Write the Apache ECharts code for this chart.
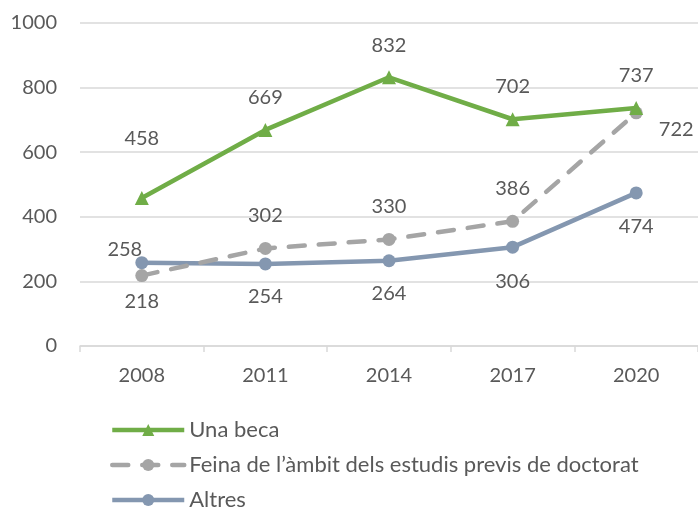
<!DOCTYPE html>
<html>
<head>
<meta charset="utf-8">
<script src="https://cdn.jsdelivr.net/npm/echarts@6/dist/echarts.min.js"></script>
<style>
  html, body { margin: 0; padding: 0; background: #fff; }
  #chart { width: 698px; height: 509px; }
</style>
</head>
<body>
<div id="chart"></div>
<script>
// Survey years
const years = ['2008', '2011', '2014', '2017', '2020'];

// Values per series
const unaBeca = [458, 669, 832, 702, 737];
const feinaAmbit = [218, 302, 330, 386, 722];
const altres = [258, 254, 264, 306, 474];

// Series names
const seriesNames = ['Una beca', 'Feina de l\u2019àmbit dels estudis previs de doctorat', 'Altres'];

// Y axis range
const yMin = 0, yMax = 1000, yStep = 200;

// Label placement (pixel offsets from each point)
const offsBeca = [[0, -60], [0, -32], [0, -32], [0, -33], [0, -32]];
const offsFeina = [[0, 26], [0, -33], [0, -33], [0, -33], [40, 17]];
const offsAltres = [[-17, -13], [0, 33], [0, 33], [0, 34], [0, 34]];

// Legend rows (top of each row)
const legendTops = [419, 454, 489];

const FONT = 'Lato';
const TEXT = '#595959';

function withLabels(values, offsets) {
  return values.map((v, i) => ({
    value: v,
    label: { offset: offsets[i] }
  }));
}

const labelBase = {
  show: true,
  position: 'inside',
  color: TEXT,
  fontFamily: FONT,
  fontSize: 20
};

// One legend block per series, stacked vertically
const legends = seriesNames.map((name, i) => ({
  orient: 'vertical',
  left: 110,
  top: legendTops[i],
  padding: 0,
  itemWidth: 72,
  itemHeight: 15,
  lineStyle: { width: 4.5 },
  textStyle: { color: TEXT, fontFamily: FONT, fontSize: 22, lineHeight: 22 },
  data: [name]
}));

const chart = echarts.init(document.getElementById('chart'));
chart.setOption({
  animation: false,
  backgroundColor: '#fff',
  textStyle: { fontFamily: FONT },
  grid: { left: 80, right: -6, top: 23, bottom: 163, containLabel: false },
  legend: legends,
  xAxis: {
    type: 'category',
    data: years,
    boundaryGap: true,
    axisLine: { lineStyle: { color: '#d9d9d9', width: 1.5 } },
    axisTick: { show: true, length: 6, lineStyle: { color: '#d9d9d9', width: 1.5 } },
    axisLabel: { color: TEXT, fontFamily: FONT, fontSize: 20, margin: 20 },
    splitLine: { show: false }
  },
  yAxis: {
    type: 'value',
    min: yMin,
    max: yMax,
    interval: yStep,
    axisLine: { show: false },
    axisTick: { show: false },
    axisLabel: { color: TEXT, fontFamily: FONT, fontSize: 20, margin: 23, formatter: (v) => String(v) },
    splitLine: { lineStyle: { color: '#d9d9d9', width: 1.5 } }
  },
  series: [
    {
      name: seriesNames[0],
      type: 'line',
      data: withLabels(unaBeca, offsBeca),
      color: '#70ad47',
      symbol: 'triangle',
      symbolSize: 14,
      lineStyle: { width: 4.5, color: '#70ad47' },
      itemStyle: { color: '#70ad47' },
      label: labelBase,
      z: 4
    },
    {
      name: seriesNames[1],
      type: 'line',
      data: withLabels(feinaAmbit, offsFeina),
      color: '#a5a5a5',
      symbol: 'circle',
      symbolSize: 13,
      lineStyle: { width: 4.5, color: '#a5a5a5', type: [16, 14], cap: 'round' },
      itemStyle: { color: '#a5a5a5' },
      label: labelBase,
      z: 3
    },
    {
      name: seriesNames[2],
      type: 'line',
      data: withLabels(altres, offsAltres),
      color: '#8497b0',
      symbol: 'circle',
      symbolSize: 13,
      lineStyle: { width: 4.5, color: '#8497b0' },
      itemStyle: { color: '#8497b0' },
      label: labelBase,
      z: 2
    }
  ]
});
</script>
</body>
</html>
